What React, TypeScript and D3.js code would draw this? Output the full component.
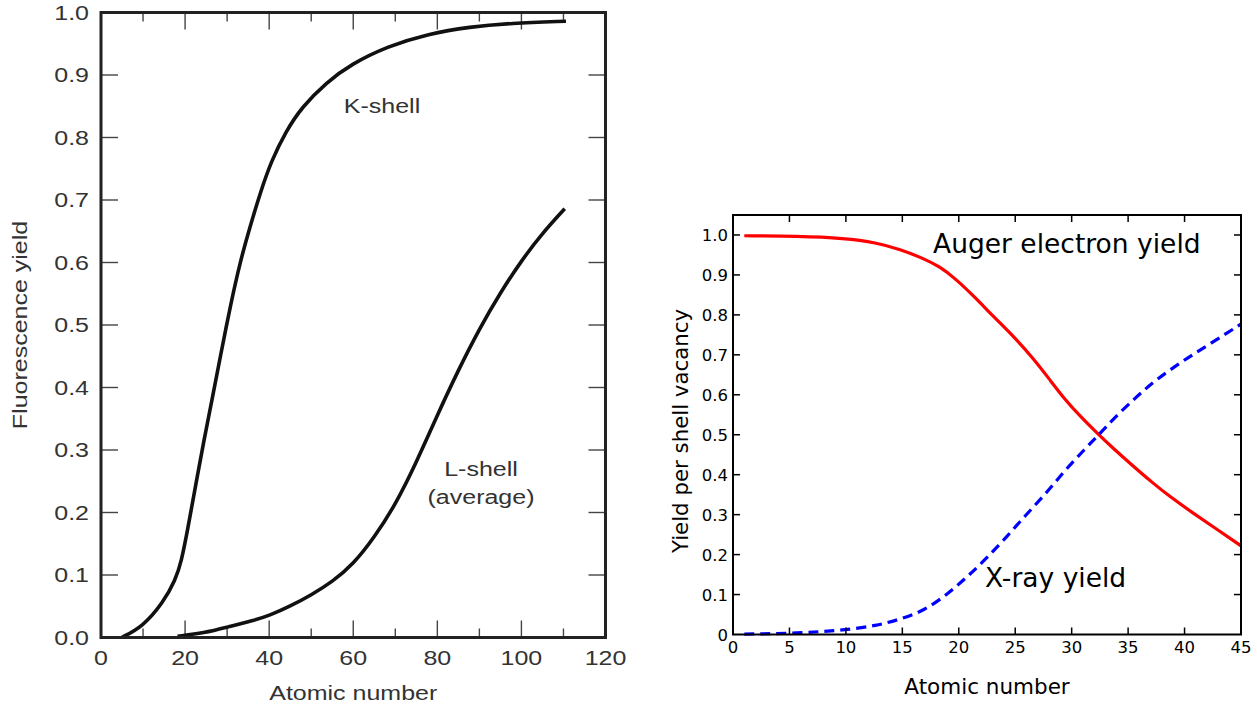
import React from 'react';
import * as d3 from 'd3';

// ---------- Left chart data (Fluorescence yield vs atomic number) ----------
const kShellZ = [4.9, 9.9, 14.8, 17.7, 19.1, 20.6, 22.5, 24.5, 26.4, 28.4, 30.8, 33.2, 35.7, 38.1, 40.5, 43.9, 47.8, 53.6, 59.4, 68.2, 77.9, 87.7, 97.4, 110.6];
const kShellYield = [0, 0.017, 0.056, 0.092, 0.121, 0.172, 0.243, 0.316, 0.38, 0.45, 0.532, 0.604, 0.663, 0.716, 0.762, 0.809, 0.849, 0.888, 0.917, 0.946, 0.966, 0.977, 0.983, 0.986];
const lShellZ = [18.2, 24.5, 30.3, 36.2, 40, 45, 50, 55, 60, 65, 70, 75, 80, 85, 90, 95, 100, 105, 110.3];
const lShellYield = [0.002, 0.007, 0.017, 0.027, 0.035, 0.050, 0.068, 0.089, 0.117, 0.160, 0.212, 0.280, 0.356, 0.428, 0.494, 0.552, 0.603, 0.647, 0.686];
const leftXTicks = [0, 20, 40, 60, 80, 100, 120];
const leftXMinorTicks = [10, 30, 50, 70, 90, 110];
const leftYTicks = [0, 0.1, 0.2, 0.3, 0.4, 0.5, 0.6, 0.7, 0.8, 0.9, 1.0];

// ---------- Right chart data (Yield per shell vacancy) ----------
const augerZ = [1, 5.7, 9.9, 12.7, 14.8, 16.9, 18.3, 19.7, 21.4, 23.1, 24.9, 26.6, 28.0, 29.4, 30.8, 32.4, 33.6, 35.3, 37.1, 38.8, 40.6, 42.3, 45];
const augerYield = [0.998, 0.997, 0.992, 0.981, 0.964, 0.941, 0.921, 0.891, 0.845, 0.795, 0.745, 0.691, 0.640, 0.588, 0.545, 0.500, 0.468, 0.425, 0.381, 0.343, 0.307, 0.274, 0.222];
const xrayZ = [1, 5.7, 9.9, 12.7, 14.8, 16.9, 19, 20.7, 22.4, 24.2, 25.9, 27.7, 29.4, 31.2, 32.4, 33.6, 35.7, 37.4, 39.9, 42.3, 45];
const xrayYield = [0.001, 0.003, 0.011, 0.022, 0.038, 0.059, 0.101, 0.143, 0.189, 0.243, 0.298, 0.352, 0.411, 0.465, 0.500, 0.537, 0.594, 0.636, 0.686, 0.728, 0.777];
const rightXTicks = [0, 5, 10, 15, 20, 25, 30, 35, 40, 45];
const rightYTicks = [0, 0.1, 0.2, 0.3, 0.4, 0.5, 0.6, 0.7, 0.8, 0.9, 1.0];
const rightYTickLabels = ['0', '0.1', '0.2', '0.3', '0.4', '0.5', '0.6', '0.7', '0.8', '0.9', '1.0'];

const LFONT = '"Liberation Sans", Arial, Helvetica, sans-serif';
const RFONT = '"DejaVu Sans", sans-serif';
const SX = 1.25;
const LTEXT = '#333';

function LText({ x, y, children, anchor = 'middle', rotate = 0 }: any) {
  return (
    <text
      transform={`translate(${x},${y}) rotate(${rotate}) scale(${SX},1)`}
      textAnchor={anchor}
      fontFamily={LFONT}
      fontSize={20}
      fill={LTEXT}
    >
      {children}
    </text>
  );
}

export default function App() {
  // Left scales
  const lx = d3.scaleLinear().domain([0, 120]).range([101, 605.5]);
  const ly = d3.scaleLinear().domain([0, 1]).range([637.5, 12.5]);
  const leftLine = d3
    .line<[number, number]>()
    .x((d) => lx(d[0]))
    .y((d) => ly(d[1]))
    .curve(d3.curveBasis);
  const kPath = leftLine(kShellZ.map((z, i) => [z, kShellYield[i]]) as [number, number][]) || '';
  const lPath = leftLine(lShellZ.map((z, i) => [z, lShellYield[i]]) as [number, number][]) || '';

  // Right scales
  const rx = d3.scaleLinear().domain([0, 45]).range([733, 1241]);
  const ry = d3.scaleLinear().domain([0, 1.05]).range([634.5, 215]);
  const rightLine = d3
    .line<[number, number]>()
    .x((d) => rx(d[0]))
    .y((d) => ry(d[1]))
    .curve(d3.curveBasis);
  const augerPath = rightLine(augerZ.map((z, i) => [z, augerYield[i]]) as [number, number][]) || '';
  const xrayPath = rightLine(xrayZ.map((z, i) => [z, xrayYield[i]]) as [number, number][]) || '';

  const [lx0, lx1] = lx.range();
  const [ly0, ly1] = ly.range();
  const [rx0, rx1] = rx.range();
  const [ry0, ry1] = ry.range();

  return (
    <svg
      width={1257}
      height={706}
      style={{ position: 'absolute', left: 0, top: 0, background: '#fff' }}
    >
      <rect x={0} y={0} width={1257} height={706} fill="#fff" />

      {/* ---------------- Left chart ---------------- */}
      <g>
        {leftXTicks.slice(1, -1).map((t) => (
          <g key={'lxt' + t} stroke="#444" strokeWidth={1.4}>
            <line x1={lx(t)} x2={lx(t)} y1={ly0} y2={ly0 - 17} />
            <line x1={lx(t)} x2={lx(t)} y1={ly1} y2={ly1 + 17} />
          </g>
        ))}
        {leftXMinorTicks.map((t) => (
          <g key={'lxm' + t} stroke="#444" strokeWidth={1.4}>
            <line x1={lx(t)} x2={lx(t)} y1={ly0} y2={ly0 - 9} />
            <line x1={lx(t)} x2={lx(t)} y1={ly1} y2={ly1 + 9} />
          </g>
        ))}
        {leftYTicks.slice(1, -1).map((t) => (
          <g key={'lyt' + t} stroke="#444" strokeWidth={1.4}>
            <line x1={lx0} x2={lx0 + 17} y1={ly(t)} y2={ly(t)} />
            <line x1={lx1} x2={lx1 - 17} y1={ly(t)} y2={ly(t)} />
          </g>
        ))}
        <path d={kPath} fill="none" stroke="#111" strokeWidth={3.6} />
        <path d={lPath} fill="none" stroke="#111" strokeWidth={3.6} />
        <rect
          x={lx0}
          y={ly1}
          width={lx1 - lx0}
          height={ly0 - ly1}
          fill="none"
          stroke="#222"
          strokeWidth={3}
        />
        {leftXTicks.map((t) => (
          <LText key={'lxl' + t} x={lx(t)} y={665}>
            {String(t)}
          </LText>
        ))}
        {leftYTicks.map((t) => (
          <LText key={'lyl' + t} x={89} y={ly(t) + 7} anchor="end">
            {t.toFixed(1)}
          </LText>
        ))}
        <LText x={(lx0 + lx1) / 2} y={700}>
          Atomic number
        </LText>
        <LText x={27} y={325} rotate={-90}>
          Fluorescence yield
        </LText>
        <LText x={382} y={113}>
          K-shell
        </LText>
        <LText x={481} y={476}>
          L-shell
        </LText>
        <LText x={481} y={504}>
          (average)
        </LText>
      </g>

      {/* ---------------- Right chart ---------------- */}
      <g>
        <path d={augerPath} fill="none" stroke="#ff0000" strokeWidth={3.2} />
        <path
          d={xrayPath}
          fill="none"
          stroke="#0000ff"
          strokeWidth={3.2}
          strokeDasharray="10,6"
        />
        {rightXTicks.slice(1, -1).map((t) => (
          <g key={'rxt' + t} stroke="#000" strokeWidth={1.5}>
            <line x1={rx(t)} x2={rx(t)} y1={ry0} y2={ry0 - 7} />
            <line x1={rx(t)} x2={rx(t)} y1={ry1} y2={ry1 + 7} />
          </g>
        ))}
        {rightYTicks.slice(1).map((t) => (
          <g key={'ryt' + t} stroke="#000" strokeWidth={1.5}>
            <line x1={rx0} x2={rx0 + 7} y1={ry(t)} y2={ry(t)} />
            <line x1={rx1} x2={rx1 - 7} y1={ry(t)} y2={ry(t)} />
          </g>
        ))}
        <rect
          x={rx0}
          y={ry1}
          width={rx1 - rx0}
          height={ry0 - ry1}
          fill="none"
          stroke="#000"
          strokeWidth={2}
        />
        {rightXTicks.map((t) => (
          <text
            key={'rxl' + t}
            x={rx(t)}
            y={653}
            textAnchor="middle"
            fontFamily={RFONT}
            fontSize={16.5}
            fill="#000"
          >
            {String(t)}
          </text>
        ))}
        {rightYTicks.map((t, i) => (
          <text
            key={'ryl' + t}
            x={728}
            y={ry(t) + 6}
            textAnchor="end"
            fontFamily={RFONT}
            fontSize={16.5}
            fill="#000"
          >
            {rightYTickLabels[i]}
          </text>
        ))}
        <text
          x={(rx0 + rx1) / 2}
          y={694}
          textAnchor="middle"
          fontFamily={RFONT}
          fontSize={21.5}
          fill="#000"
        >
          Atomic number
        </text>
        <text
          transform={`translate(688,431) rotate(-90)`}
          textAnchor="middle"
          fontFamily={RFONT}
          fontSize={21.3}
          fill="#000"
        >
          Yield per shell vacancy
        </text>
        <text x={933} y={253} fontFamily={RFONT} fontSize={26.5} fill="#000">
          Auger electron yield
        </text>
        <text x={985} y={587} fontFamily={RFONT} fontSize={26.5} fill="#000">
          X-ray yield
        </text>
      </g>
    </svg>
  );
}
